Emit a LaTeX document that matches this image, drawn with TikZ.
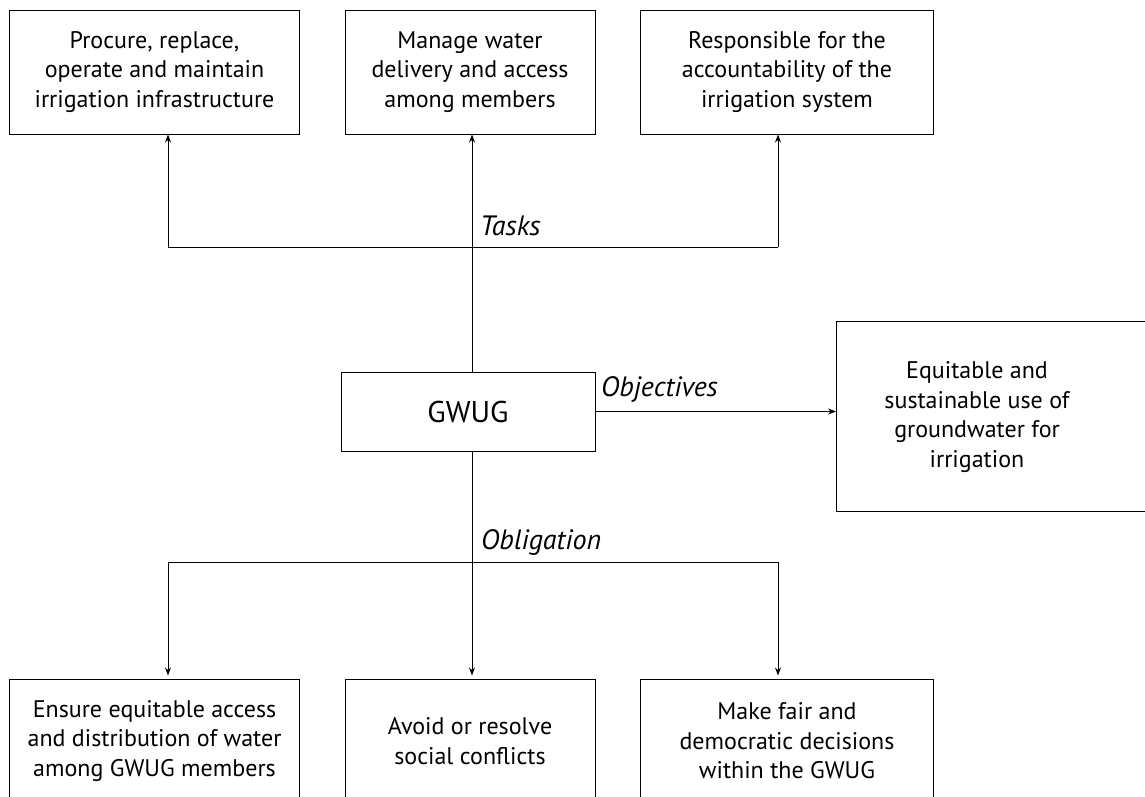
\documentclass[tikz,border=0pt]{standalone}
\usepackage{fontspec}
\setmainfont{PT Sans}
\usetikzlibrary{arrows.meta}

\begin{document}
\begin{tikzpicture}[x=1pt,y=1pt,
    every node/.style={inner sep=0pt, align=center, font=\fontsize{24}{29.5}\selectfont},
    taskbox/.style={draw, line width=1pt, minimum height=124pt},
    mainbox/.style={draw, line width=1pt, minimum width=254pt, minimum height=79pt, font=\fontsize{30}{34}\selectfont},
    link/.style={draw, line width=0.8pt},
    arr/.style={link, -{Stealth[length=8pt,width=6pt]}},
    lbl/.style={anchor=west, font=\fontsize{28}{30}\selectfont\itshape}]
    \useasboundingbox (0,0) rectangle (1145,-796);
    \node [taskbox, minimum width=290pt] (procure) at (154.5,-72) {Procure, replace,\\operate and maintain\\irrigation infrastructure};
    \node [taskbox, minimum width=250pt] (manage) at (470,-72) {Manage water\\delivery and access\\among members};
    \node [taskbox, minimum width=293pt] (account) at (787,-72) {Responsible for the\\accountability of the\\irrigation system};
    \node [mainbox] (gwug) at (468,-411.5) {GWUG};
    \node [draw, line width=1pt, minimum width=330pt, minimum height=190pt, anchor=west] (objective) at (836,-416) {};
    \node (objtext) at (977,-417) {Equitable and\\sustainable use of\\groundwater for\\irrigation};
    \node [taskbox, minimum width=290pt] (ensure) at (154.5,-741) {Ensure equitable access\\and distribution of water\\among GWUG members};
    \node [taskbox, minimum width=250pt] (avoid) at (470,-741) {Avoid or resolve\\social conflicts};
    \node [taskbox, minimum width=293pt] (decide) at (787,-741) {Make fair and\\democratic decisions\\within the GWUG};
    \coordinate (tl) at (168,-247);
    \coordinate (tm) at (472,-247);
    \coordinate (tr) at (778,-247);
    \coordinate (bl) at (168,-562);
    \coordinate (bm) at (472,-562);
    \coordinate (br) at (778,-562);
    % tasks
    \draw [link] (tl) -- (tr);
    \draw [arr] (tl) -- (tl |- procure.south);
    \draw [arr] (tr) -- (tr |- account.south);
    \draw [arr] (gwug.north -| tm) -- (tm |- manage.south);
    \node [lbl] (tasks) at (480,-226) {Tasks};
    % objectives
    \draw [arr] (gwug.east) -- (objective.west |- gwug.east);
    \node [lbl] (objectives) at (601,-389) {Objectives};
    % obligation
    \draw [link] (bl) -- (br);
    \draw [arr, shorten >=3pt] (bl) -- (bl |- ensure.north);
    \draw [arr, shorten >=3pt] (br) -- (br |- decide.north);
    \draw [arr, shorten >=3pt] (gwug.south -| bm) -- (bm |- avoid.north);
    \node [lbl] (obligation) at (481,-542) {Obligation};
\end{tikzpicture}
\end{document}
